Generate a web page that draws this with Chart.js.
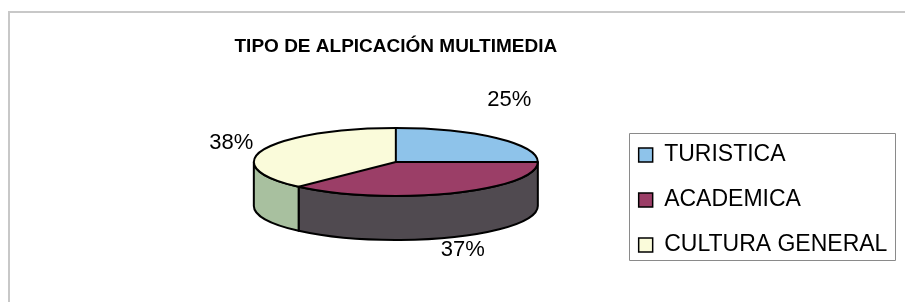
<!DOCTYPE html>
<html>
<head>
<meta charset="utf-8">
<title>TIPO DE ALPICACIÓN MULTIMEDIA</title>
<script src="https://cdn.jsdelivr.net/npm/chart.js@4/dist/chart.umd.min.js"></script>
<style>
  body { margin: 0; background: #fff; }
  #wrap { position: relative; width: 905px; height: 302px; overflow: hidden; }
  #frame { position: absolute; left: 8px; top: 11px; width: 1000px; height: 400px;
           border-left: 2px solid #c8c8c8; border-top: 2px solid #c8c8c8; }
  #chart { position: absolute; left: 0; top: 0; }
</style>
</head>
<body>
<div id="wrap">
  <div id="frame"></div>
  <canvas id="chart" width="905" height="302"></canvas>
</div>
<script>
// Chart values
const categories = ['TURISTICA', 'ACADEMICA', 'CULTURA GENERAL'];
const shares = [25, 37, 38];

// Colours of the top face and of the side wall of each slice
const topColors = ['#8EC3EA', '#9B3E67', '#FAFBDA'];
const sideColors = ['#6F9CC0', '#504A50', '#A8C09F'];

// Plugin that turns the flat pie into a tilted 3D disc
const pie3d = {
  id: 'pie3d',
  beforeDatasetsDraw(chart, args, opts) {
    const arcs = chart.getDatasetMeta(0).data;
    const ctx = chart.ctx;
    const {x, y, outerRadius: r} = arcs[0];
    const ry = r * opts.squash;

    // side walls: only the front half (0..PI) can be seen
    arcs.forEach((arc, i) => {
      const a1 = Math.max(arc.startAngle, 0);
      const a2 = Math.min(arc.endAngle, Math.PI);
      if (a2 <= a1) return;
      ctx.beginPath();
      ctx.ellipse(x, y, r, ry, 0, a1, a2);
      ctx.ellipse(x, y + opts.depth, r, ry, 0, a2, a1, true);
      ctx.closePath();
      ctx.fillStyle = sideColors[i];
      ctx.fill();
      ctx.lineWidth = opts.lineWidth;
      ctx.strokeStyle = '#000';
      ctx.lineJoin = 'round';
      ctx.stroke();
    });

    // squash the top face
    ctx.save();
    ctx.translate(x, y);
    ctx.scale(1, opts.squash);
    ctx.translate(-x, -y);
  },
  afterDatasetsDraw(chart, args, opts) {
    const ctx = chart.ctx;
    ctx.restore();
    const arcs = chart.getDatasetMeta(0).data;
    const {x, y, outerRadius: r} = arcs[0];
    const ry = r * opts.squash;

    // outlines of the top face
    ctx.save();
    ctx.lineWidth = opts.lineWidth;
    ctx.strokeStyle = '#000';
    ctx.beginPath();
    ctx.ellipse(x, y, r, ry, 0, 0, Math.PI * 2);
    ctx.stroke();
    arcs.forEach(arc => {
      ctx.beginPath();
      ctx.moveTo(x, y);
      ctx.lineTo(x + r * Math.cos(arc.startAngle), y + ry * Math.sin(arc.startAngle));
      ctx.stroke();
    });

    // percentage labels
    const total = shares.reduce((a, b) => a + b, 0);
    ctx.fillStyle = '#000';
    ctx.font = opts.labelFont;
    ctx.textAlign = 'center';
    ctx.textBaseline = 'middle';
    arcs.forEach((arc, i) => {
      const mid = (arc.startAngle + arc.endAngle) / 2;
      const s = Math.sin(mid);
      const px = x + r * Math.cos(mid);
      const py = y + ry * s + (s > 0 ? opts.depth : 0);
      const off = opts.labelOffsets[i];
      ctx.fillText(Math.round(shares[i] / total * 100) + '%', px + off[0], py + off[1]);
    });
    ctx.restore();
  },
  afterDraw(chart) {
    // frame around the legend
    const lg = chart.legend;
    const boxes = lg.legendHitBoxes;
    const top = boxes[0].top - 10.5;
    const last = boxes[boxes.length - 1];
    const bottom = last.top + last.height + 3.5;
    const ctx = chart.ctx;
    ctx.save();
    ctx.strokeStyle = '#8a8a8a';
    ctx.lineWidth = 1;
    ctx.strokeRect(Math.round(lg.left + 12) + 0.5, Math.round(top) + 0.5,
                   Math.round(lg.right - 2.5 - lg.left - 12), Math.round(bottom - top));
    ctx.restore();
  }
};

const baseLabels = Chart.overrides.pie.plugins.legend.labels.generateLabels;

new Chart(document.getElementById('chart'), {
  type: 'pie',
  data: {
    labels: categories,
    datasets: [{
      data: shares,
      backgroundColor: topColors,
      borderWidth: 0,
      radius: 142,
      clip: false
    }]
  },
  options: {
    responsive: false,
    animation: false,
    events: [],
    layout: { padding: { left: 175, right: 7.6, top: 0, bottom: 23.5 } },
    plugins: {
      tooltip: { enabled: false },
      title: {
        display: true,
        fullSize: false,
        text: 'TIPO DE ALPICACIÓN MULTIMEDIA',
        color: '#000',
        font: { family: '"Liberation Sans", Arial, sans-serif', size: 19, weight: 'bold' },
        padding: { top: 35.5, bottom: -12.8 }
      },
      legend: {
        position: 'right',
        align: 'end',
        fullSize: false,
        labels: {
          color: '#000',
          font: { family: '"Liberation Sans", Arial, sans-serif', size: 23 },
          boxWidth: 14,
          boxHeight: 14,
          padding: 22,
          generateLabels(chart) {
            return baseLabels(chart).map(item => ({...item, strokeStyle: '#000', lineWidth: 1.5}));
          }
        }
      },
      pie3d: {
        squash: 0.2394,
        depth: 44,
        lineWidth: 2,
        labelFont: '22px "Liberation Sans", Arial, sans-serif',
        labelOffsets: [[13, -38], [10.6, 12.3], [-32.5, -6.5]]
      }
    }
  },
  plugins: [pie3d]
});
</script>
</body>
</html>
